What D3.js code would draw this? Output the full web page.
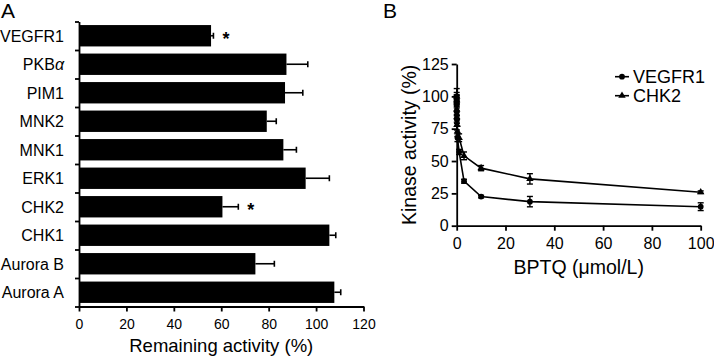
<!DOCTYPE html>
<html lang="en">
    <head>
        <meta charset="utf-8">
        <title>Kinase panel</title>
        <script type="text/javascript" src="https://cdn.jsdelivr.net/npm/d3@7"></script>
        <style>
            body { margin: 0; background: #fff; }
            text { font-family: "Liberation Sans", Arial, sans-serif; fill: #000; }
        </style>
    </head>
    <body>
        <script type="text/javascript">

            //Panel A data
            var kinases = ["VEGFR1", "PKBα", "PIM1", "MNK2", "MNK1", "ERK1", "CHK2", "CHK1", "Aurora B", "Aurora A"];
            var remaining = [55.7, 87.5, 86.9, 79.2, 86.2, 95.6, 60.5, 105.6, 74.4, 107.7];
            var remainingErr = [1.0, 9.0, 7.5, 4.0, 5.5, 10.0, 6.7, 2.7, 8.0, 2.7];
            var significant = ["VEGFR1", "CHK2"];
            var xTicksA = [0, 20, 40, 60, 80, 100, 120];

            //Panel B data
            var vegfr1Conc = [0.001, 0.003, 0.01, 0.03, 0.1, 0.3, 1, 3, 10, 30, 100];
            var vegfr1Act = [100, 98, 95, 88, 82, 68, 57, 34.4, 22.5, 18.6, 14.7];
            var vegfr1Err = [3, 3, 3, 3, 3, 3, 2, 1.5, 1, 4, 3];
            var chk2Conc = [0.001, 0.003, 0.01, 0.03, 0.1, 0.3, 1, 3, 10, 30, 100];
            var chk2Act = [100, 97, 90, 84, 78, 73, 68, 54, 44.5, 36.2, 25.9];
            var chk2Err = [6, 4, 4, 4, 4, 4, 3, 3, 2, 4, 1];
            var yTicksB = [0, 25, 50, 75, 100, 125];
            var xTicksB = [0, 20, 40, 60, 80, 100];

            var w = 714;
            var h = 357;

            var svg = d3.select("body")
                        .append("svg")
                        .attr("width", w)
                        .attr("height", h);

            // ---------- Panel A ----------
            var xA = d3.scaleLinear().domain([0, 120]).range([79, 363.5]);
            var yA = d3.scaleBand()
                        .domain(kinases)
                        .range([21.5, 306.5])
                        .paddingInner(0.25)
                        .paddingOuter(0.125);
            var yEdge = d3.scaleLinear().domain([0, kinases.length]).range([21.5, 306.5]);

            var gA = svg.append("g");

            gA.selectAll("rect.bar")
                .data(kinases)
                .enter()
                .append("rect")
                .attr("class", "bar")
                .attr("x", xA(0))
                .attr("y", function(d) { return yA(d); })
                .attr("width", function(d, i) { return xA(remaining[i]) - xA(0); })
                .attr("height", yA.bandwidth())
                .attr("fill", "#000");

            //one-sided error bars
            gA.selectAll("line.err")
                .data(kinases)
                .enter()
                .append("line")
                .attr("x1", function(d, i) { return xA(remaining[i]); })
                .attr("x2", function(d, i) { return xA(remaining[i] + remainingErr[i]); })
                .attr("y1", function(d) { return yA(d) + yA.bandwidth() / 2; })
                .attr("y2", function(d) { return yA(d) + yA.bandwidth() / 2; })
                .attr("stroke", "#000")
                .attr("stroke-width", 1.6);

            gA.selectAll("line.cap")
                .data(kinases)
                .enter()
                .append("line")
                .attr("x1", function(d, i) { return xA(remaining[i] + remainingErr[i]); })
                .attr("x2", function(d, i) { return xA(remaining[i] + remainingErr[i]); })
                .attr("y1", function(d) { return yA(d) + yA.bandwidth() / 2 - 3; })
                .attr("y2", function(d) { return yA(d) + yA.bandwidth() / 2 + 3; })
                .attr("stroke", "#000")
                .attr("stroke-width", 1.6);

            //significance stars
            gA.selectAll("text.star")
                .data(significant)
                .enter()
                .append("text")
                .attr("x", function(d) {
                    var i = kinases.indexOf(d);
                    return xA(remaining[i] + remainingErr[i]) + 9;
                })
                .attr("y", function(d) { return yA(d) + yA.bandwidth() / 2 + 9; })
                .attr("font-size", "18px")
                .attr("font-weight", "bold")
                .text("*");

            //category labels
            gA.selectAll("text.cat")
                .data(kinases)
                .enter()
                .append("text")
                .attr("x", 64)
                .attr("y", function(d) { return yA(d) + yA.bandwidth() / 2; })
                .attr("dy", "0.36em")
                .attr("text-anchor", "end")
                .attr("font-size", "16px")
                .each(function(d) {
                    var t = d3.select(this);
                    if (d === "PKBα") {
                        t.append("tspan").text("PKB");
                        t.append("tspan").attr("font-style", "italic").text("α");
                    } else {
                        t.text(d);
                    }
                });

            //y axis with boundary ticks
            var yAxisA = gA.append("g")
                .attr("transform", "translate(" + xA(0) + ",0)")
                .call(d3.axisLeft(yEdge).tickValues(d3.range(kinases.length + 1)).tickSize(4).tickFormat("").tickSizeOuter(0));

            var xAxisA = gA.append("g")
                .attr("transform", "translate(0,306.5)")
                .call(d3.axisBottom(xA).tickValues(xTicksA).tickSize(5).tickSizeOuter(0).tickPadding(8));

            [yAxisA, xAxisA].forEach(function(ax) {
                ax.selectAll("path, line").attr("stroke", "#000").attr("stroke-width", 1.8);
                ax.selectAll("text").attr("font-size", "14px").attr("font-family", "Liberation Sans, Arial, sans-serif").attr("fill", "#000");
            });

            gA.append("text")
                .attr("x", (xA(0) + xA(120)) / 2)
                .attr("y", 352)
                .attr("text-anchor", "middle")
                .attr("font-size", "18.5px")
                .text("Remaining activity (%)");

            svg.append("text")
                .attr("x", 1)
                .attr("y", 18)
                .attr("font-size", "21px")
                .text("A");

            // ---------- Panel B ----------
            var xB = d3.scaleLinear().domain([0, 100]).range([456.7, 700.7]);
            var yB = d3.scaleLinear().domain([0, 125]).range([225.7, 64]);

            var gB = svg.append("g");

            var xAxisB = gB.append("g")
                .attr("transform", "translate(0," + yB(0) + ")")
                .call(d3.axisBottom(xB).tickValues(xTicksB).tickSize(5).tickSizeOuter(0).tickPadding(7));

            var yAxisB = gB.append("g")
                .attr("transform", "translate(" + xB(0) + ",0)")
                .call(d3.axisLeft(yB).tickValues(yTicksB).tickSize(5).tickSizeOuter(0).tickPadding(3));

            [xAxisB, yAxisB].forEach(function(ax) {
                ax.selectAll("path, line").attr("stroke", "#000").attr("stroke-width", 1.8);
                ax.selectAll("text").attr("font-size", "16px").attr("font-family", "Liberation Sans, Arial, sans-serif").attr("fill", "#000");
            });

            var line = d3.line()
                        .x(function(d) { return xB(d[0]); })
                        .y(function(d) { return yB(d[1]); });

            var series = [
                { name: "VEGFR1", conc: vegfr1Conc, act: vegfr1Act, err: vegfr1Err, shape: d3.symbolCircle, size: 26 },
                { name: "CHK2", conc: chk2Conc, act: chk2Act, err: chk2Err, shape: d3.symbolTriangle, size: 24 }
            ];

            series.forEach(function(s) {
                var pts = s.conc.map(function(c, i) { return [c, s.act[i], s.err[i]]; });

                gB.append("path")
                    .datum(pts)
                    .attr("d", line)
                    .attr("fill", "none")
                    .attr("stroke", "#000")
                    .attr("stroke-width", 1.6);

                var eg = gB.append("g");
                pts.forEach(function(p) {
                    var x = xB(p[0]);
                    eg.append("line")
                        .attr("x1", x).attr("x2", x)
                        .attr("y1", yB(p[1] - p[2])).attr("y2", yB(p[1] + p[2]))
                        .attr("stroke", "#000").attr("stroke-width", 1.4);
                    [p[1] - p[2], p[1] + p[2]].forEach(function(v) {
                        eg.append("line")
                            .attr("x1", x - 3).attr("x2", x + 3)
                            .attr("y1", yB(v)).attr("y2", yB(v))
                            .attr("stroke", "#000").attr("stroke-width", 1.4);
                    });
                });

                gB.selectAll(null)
                    .data(pts)
                    .enter()
                    .append("path")
                    .attr("d", d3.symbol().type(s.shape).size(s.size))
                    .attr("transform", function(d) { return "translate(" + xB(d[0]) + "," + yB(d[1]) + ")"; })
                    .attr("fill", "#000");
            });

            //legend
            var legend = gB.append("g");
            series.forEach(function(s, i) {
                var ly = 76.7 + i * 19;
                legend.append("line")
                    .attr("x1", 615).attr("x2", 629)
                    .attr("y1", ly).attr("y2", ly)
                    .attr("stroke", "#000").attr("stroke-width", 1.6);
                legend.append("path")
                    .attr("d", d3.symbol().type(s.shape).size(s.size))
                    .attr("transform", "translate(622," + ly + ")")
                    .attr("fill", "#000");
                legend.append("text")
                    .attr("x", 633)
                    .attr("y", ly)
                    .attr("dy", "0.36em")
                    .attr("font-size", "18px")
                    .text(s.name);
            });

            gB.append("text")
                .attr("x", (xB(0) + xB(100)) / 2)
                .attr("y", 274)
                .attr("text-anchor", "middle")
                .attr("font-size", "19.5px")
                .text("BPTQ (μmol/L)");

            gB.append("text")
                .attr("transform", "translate(416," + yB(62.5) + ") rotate(-90)")
                .attr("text-anchor", "middle")
                .attr("font-size", "19.5px")
                .text("Kinase activity (%)");

            svg.append("text")
                .attr("x", 383)
                .attr("y", 18)
                .attr("font-size", "21px")
                .text("B");

        </script>
    </body>
</html>
